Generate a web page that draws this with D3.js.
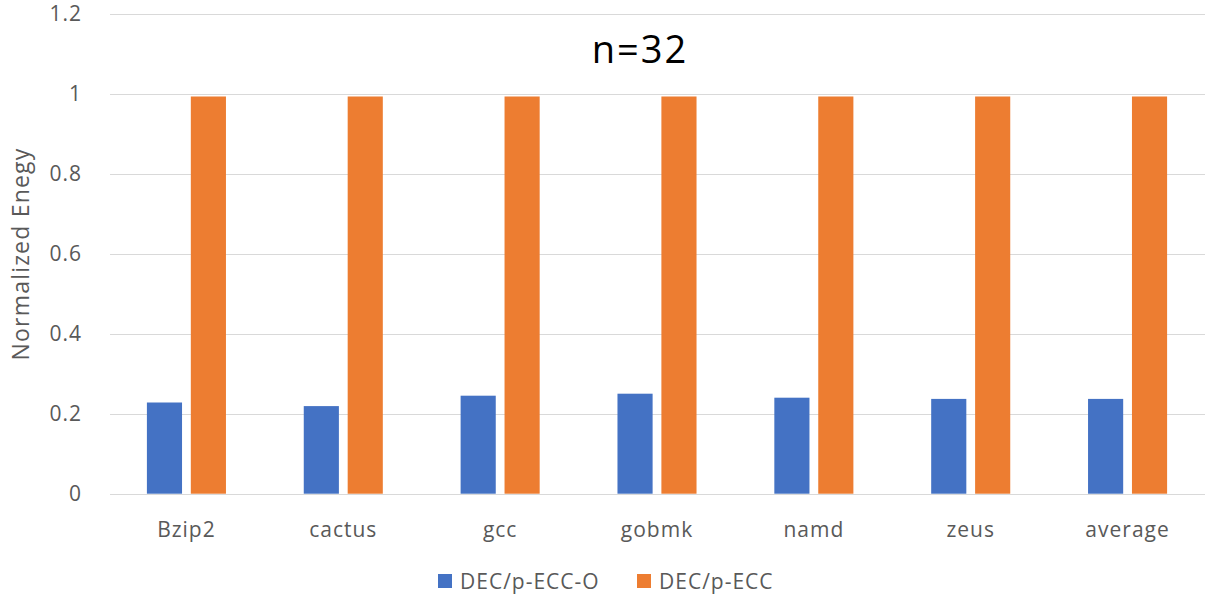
<!DOCTYPE html>
<html lang='en'>
    <head>
        <meta charset='utf-8'>
        <title>n=32 normalized energy</title>
        <script src="https://d3js.org/d3.v7.min.js" charset='utf-8'></script>
        <style type='text/css'>
            body { margin: 0; background: #fff; }
            svg { display: block; font-family: 'Open Sans', sans-serif; }
            .tick-label { fill: #595959; font-size: 21px; letter-spacing: 1px; }
            .grid { stroke: #d9d9d9; stroke-width: 1; }
        </style>
    </head>
    <body>
        <script type='text/javascript'>
            var categories = ['Bzip2', 'cactus', 'gcc', 'gobmk', 'namd', 'zeus', 'average'];
            var seriesNames = ['DEC/p-ECC-O', 'DEC/p-ECC'];
            var decPeccO = [0.228, 0.219, 0.245, 0.25, 0.24, 0.237, 0.237];
            var decPecc = [0.993, 0.993, 0.993, 0.993, 0.993, 0.993, 0.993];
            var yTicks = [0, 0.2, 0.4, 0.6, 0.8, 1, 1.2];
            var colors = ['#4472C4', '#ED7D31'];

            var width = 1208, height = 605;
            var svg = d3.select('body').append('svg')
                .attr('width', width)
                .attr('height', height);

            var x0 = d3.scaleBand().domain(categories).range([108, 1206]);
            var x1 = d3.scaleBand().domain(seriesNames)
                .range([x0.bandwidth() * 0.248, x0.bandwidth() * 0.752])
                .paddingInner(0.2);
            var y = d3.scaleLinear().domain([0, 1.2]).range([493.7, 13.7]);

            // gridlines
            svg.append('g').selectAll('line')
                .data(yTicks)
                .enter().append('line')
                .attr('class', 'grid')
                .attr('x1', 110)
                .attr('x2', 1205)
                .attr('y1', function(d) { return Math.round(y(d)) + 0.5; })
                .attr('y2', function(d) { return Math.round(y(d)) + 0.5; });

            // y tick labels
            svg.append('g').selectAll('text')
                .data(yTicks)
                .enter().append('text')
                .attr('class', 'tick-label')
                .attr('x', 82)
                .attr('y', function(d) { return y(d); })
                .attr('dy', '0.35em')
                .attr('text-anchor', 'end')
                .text(function(d) { return d3.format('~g')(d); });

            // bars
            var rows = categories.map(function(c, i) {
                return {cat: c, vals: [decPeccO[i], decPecc[i]]};
            });
            var groups = svg.append('g').selectAll('g')
                .data(rows)
                .enter().append('g')
                .attr('transform', function(d) { return 'translate(' + x0(d.cat) + ',0)'; });
            groups.selectAll('rect')
                .data(function(d) { return d.vals.map(function(v, j) { return {s: seriesNames[j], v: v, j: j}; }); })
                .enter().append('rect')
                .attr('x', function(d) { return x1(d.s); })
                .attr('width', x1.bandwidth())
                .attr('y', function(d) { return y(d.v); })
                .attr('height', function(d) { return y(0) - y(d.v); })
                .attr('fill', function(d) { return colors[d.j]; });

            // x labels
            svg.append('g').selectAll('text')
                .data(categories)
                .enter().append('text')
                .attr('class', 'tick-label')
                .attr('x', function(d) { return x0(d) + x0.bandwidth() / 2; })
                .attr('y', 537)
                .attr('text-anchor', 'middle')
                .text(function(d) { return d; });

            // y axis title
            svg.append('text')
                .attr('transform', 'translate(29,254) rotate(-90)')
                .attr('text-anchor', 'middle')
                .attr('fill', '#595959')
                .style('font-size', '23px')
                .style('letter-spacing', '1.2px')
                .text('Normalized Enegy');

            // chart title
            svg.append('text')
                .attr('x', 640)
                .attr('y', 63)
                .attr('text-anchor', 'middle')
                .attr('fill', '#000')
                .style('font-size', '38px')
                .style('letter-spacing', '2px')
                .text('n=32');

            // legend
            var legendX = [438, 637];
            var legend = svg.append('g').selectAll('g')
                .data(seriesNames)
                .enter().append('g')
                .attr('transform', function(d, i) { return 'translate(' + legendX[i] + ',0)'; });
            legend.append('rect')
                .attr('x', 0)
                .attr('y', 574)
                .attr('width', 14)
                .attr('height', 14)
                .attr('fill', function(d, i) { return colors[i]; });
            legend.append('text')
                .attr('class', 'tick-label')
                .attr('x', 22)
                .attr('y', 589)
                .text(function(d) { return d; });
        </script>
    </body>
</html>
